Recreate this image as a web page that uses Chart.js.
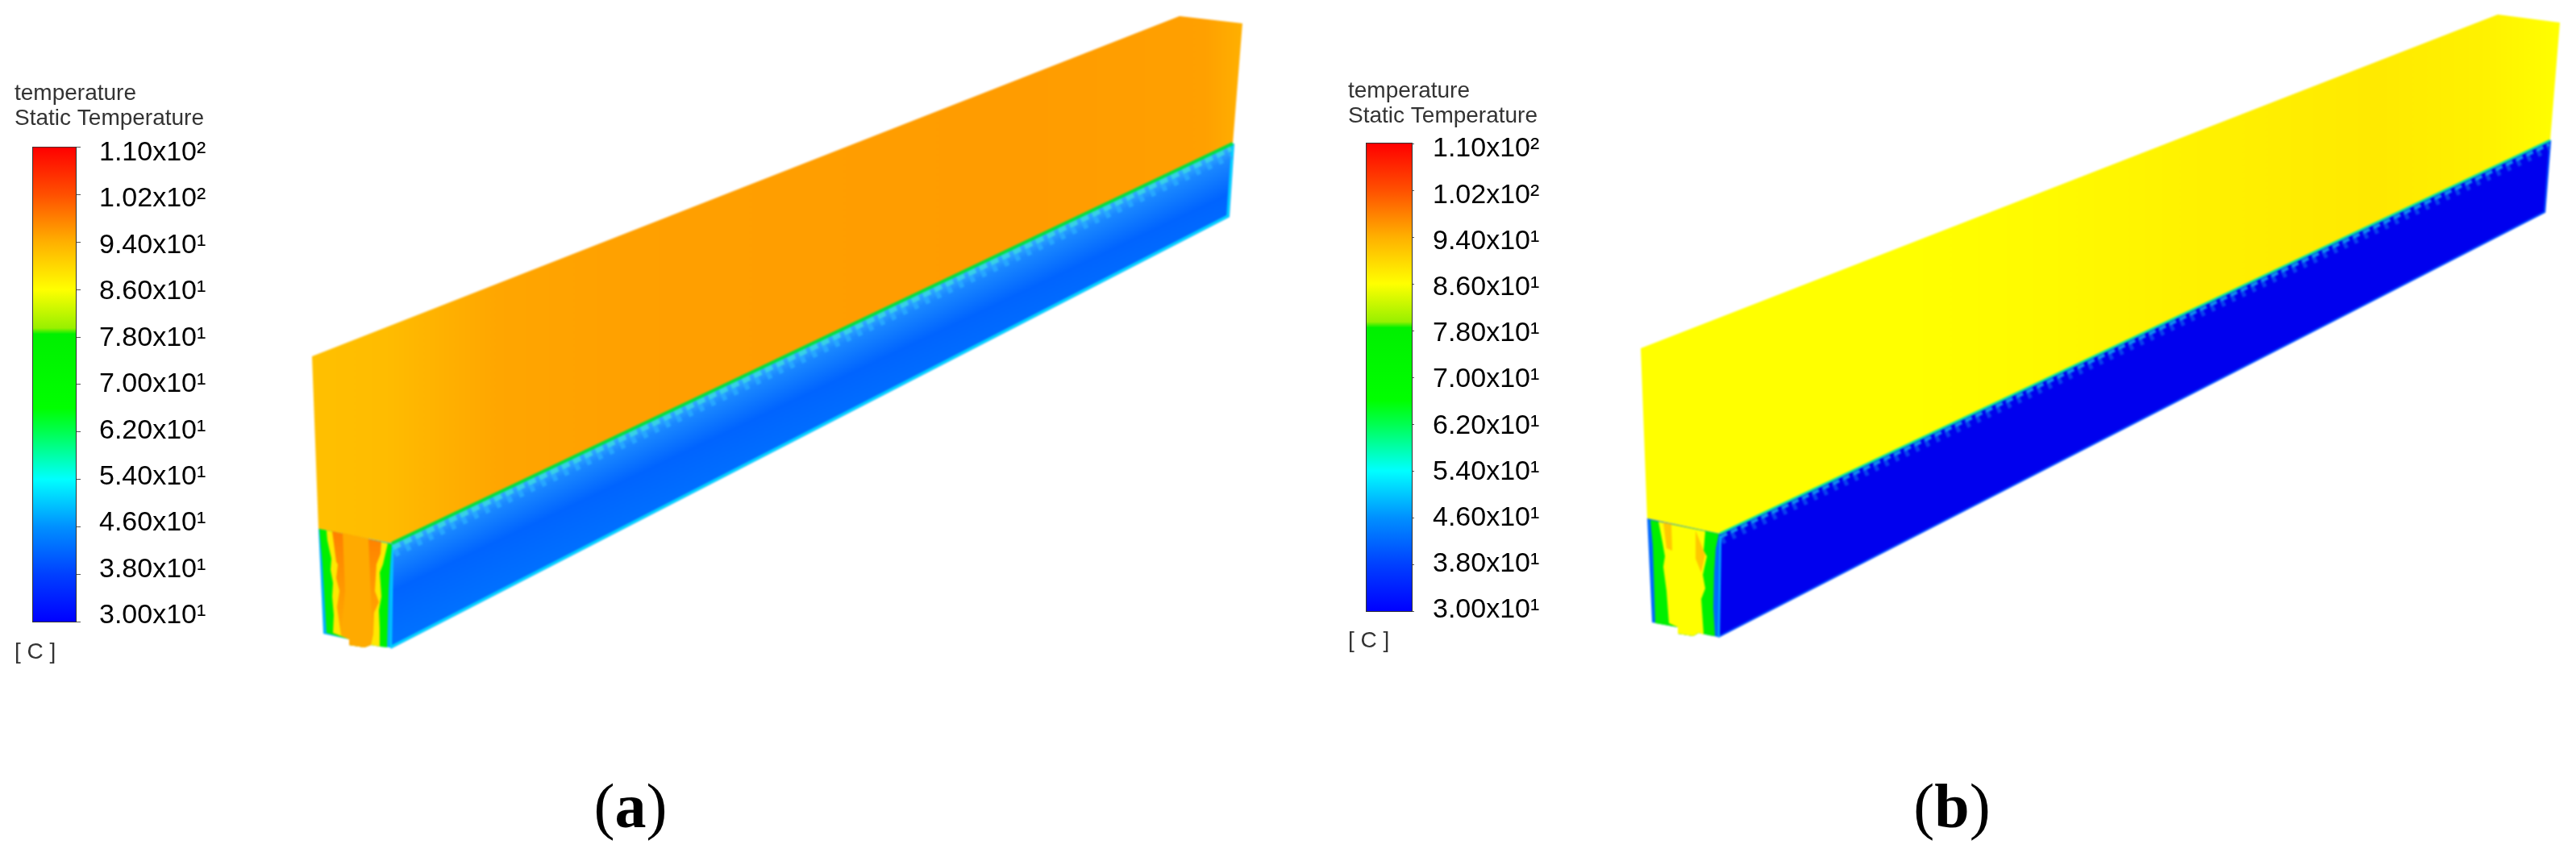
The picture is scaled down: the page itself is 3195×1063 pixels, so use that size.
<!DOCTYPE html>
<html>
<head>
<meta charset="utf-8">
<title>Static temperature</title>
<script src="https://cdn.jsdelivr.net/npm/chart.js@4"></script>
<style>
    html, body { margin: 0; padding: 0; background: #fff; }
    body { position: relative; width: 3195px; height: 1063px; overflow: hidden; }
    canvas { position: absolute; }
    #geometry { left: 0; top: 0; filter: blur(1.2px); }
    #legendA { left: 0; top: 0; filter: blur(0.3px); }
    #legendB { left: 1654px; top: 0; filter: blur(0.3px); }
    .caption { position: absolute; top: 955px; font: 78px "Liberation Serif", serif; color: #000; transform: translateX(-50%); }
</style>
</head>
<body>
<canvas id="geometry" width="3195" height="1063"></canvas>
<canvas id="legendA" width="300" height="830"></canvas>
<canvas id="legendB" width="300" height="830"></canvas>
<div class="caption" style="left:782px">(<b>a</b>)</div>
<div class="caption" style="left:2421px">(<b>b</b>)</div>
<script>
// colour bar
const tempTicks = [110, 102, 94, 86, 78, 70, 62, 54, 46, 38, 30];
const tickLabels = ['1.10x10²', '1.02x10²', '9.40x10¹', '8.60x10¹', '7.80x10¹', '7.00x10¹', '6.20x10¹', '5.40x10¹', '4.60x10¹', '3.80x10¹', '3.00x10¹'];
const colorTemps = [110, 102, 94, 86, 79.5, 78.5, 66, 62, 54, 46, 38, 30];
const colorHexes = ['#ff0000', '#ff5000', '#ffb000', '#ffff00', '#98f000', '#00f000', '#00ff00', '#00ff50', '#00ffff', '#0090ff', '#0040ff', '#0000ff'];

// panel (a), outlines
const topFaceA = [[387, 442], [1463, 20], [1541, 29], [1529, 178], [486, 674], [395, 656]];
const sideFaceA = [[486, 674], [1529, 178], [1523, 268], [484, 803]];
const interfaceA = [[486, 674], [1529, 178]];
const teethNearA = [[487, 679], [1527, 184]];
const teethFarA = [[488, 684], [1526, 190]];
const sideEdgeA = [[486, 678], [484, 803]];
const endOutlineA = [[395, 656], [401, 786], [433, 793], [433, 800], [452, 803], [460, 800], [472, 802], [484, 803], [486, 674]];
const endGreenA = [[396, 656], [400, 700], [405, 785], [433, 793], [433, 800], [452, 803], [460, 800], [472, 802], [480, 803], [482, 733], [484, 700], [486, 675]];
const endYellowA = [[405, 658], [406, 670], [411, 693], [410, 707], [413, 723], [412, 740], [414, 763], [413, 785], [433, 793], [433, 800], [452, 803], [460, 800], [471, 802], [471, 780], [470, 757], [473, 740], [471, 710], [475, 700], [481, 674]];
const endHotA = [[412, 659], [417, 697], [419, 700], [417, 717], [421, 733], [418, 753], [423, 788], [433, 793], [433, 800], [452, 803], [460, 800], [463, 787], [464, 760], [470, 747], [465, 733], [467, 700], [472, 687], [473, 672]];
const endCoreA = [[425, 661], [428, 733], [423, 788], [433, 793], [433, 800], [452, 803], [460, 800], [462, 790], [457, 668]];

// panel (b)
const topFaceB = [[2035, 432], [3098, 18], [3175, 28], [3163, 174], [2133, 662], [2043, 643]];
const sideFaceB = [[2133, 662], [3163, 174], [3156, 263], [2131, 790]];
const interfaceB = [[2133, 662], [3163, 174]];
const teethNearB = [[2134, 666], [3162, 179]];
const teethFarB = [[2135, 671], [3161, 184]];
const sideEdgeB = [[2133, 665], [2131, 790]];
const endOutlineB = [[2043, 643], [2049, 772], [2081, 778], [2081, 786], [2100, 789], [2107, 785], [2120, 788], [2131, 790], [2133, 662]];
const endGreenB = [[2047, 645], [2050, 677], [2051, 707], [2053, 773], [2081, 778], [2081, 786], [2100, 789], [2107, 785], [2120, 788], [2127, 789], [2125, 753], [2126, 710], [2128, 680], [2132, 662]];
const endYellowB = [[2057, 647], [2062, 673], [2065, 690], [2063, 703], [2067, 733], [2070, 773], [2081, 778], [2081, 786], [2100, 789], [2107, 785], [2113, 787], [2110, 743], [2115, 730], [2112, 713], [2117, 690], [2113, 683], [2115, 659]];
const endHotLeftB = [[2063, 648], [2073, 650], [2074, 683], [2067, 680]];
const endHotRightB = [[2103, 658], [2115, 688], [2110, 710], [2103, 693]];

function gradient(chart, from, to, stops) {
    const sx = chart.scales.x, sy = chart.scales.y;
    const g = chart.ctx.createLinearGradient(sx.getPixelForValue(from[0]), sy.getPixelForValue(from[1]), sx.getPixelForValue(to[0]), sy.getPixelForValue(to[1]));
    stops.forEach(function (s) { g.addColorStop(s[0], s[1]); });
    return g;
}

function shape(label, data, fill) {
    return { label: label, data: data, showLine: true, fill: 'shape', backgroundColor: fill, borderWidth: 0, pointRadius: 0 };
}

function line(label, data, color, width, dash) {
    return { label: label, data: data, showLine: true, fill: false, borderColor: color, borderWidth: width, borderDash: dash || [], pointRadius: 0 };
}

// bottom layer first
const layers = [
    shape('face a', topFaceA, function (c) {
        if (!c.chart.chartArea) return '#ffa000';
        return gradient(c.chart, [387, 0], [1541, 0], [[0, '#ffc000'], [0.08, '#ffbc00'], [0.2, '#ffa600'], [0.35, '#ffa000'], [0.75, '#ff9c00'], [0.96, '#ffa000'], [1, '#ffb000']]);
    }),
    shape('side a', sideFaceA, function (c) {
        if (!c.chart.chartArea) return '#0068ff';
        return gradient(c.chart, [1000, 430], [1046, 527], [[0, '#35b0ff'], [0.14, '#1a88ff'], [0.5, '#0064ff'], [1, '#0070ff']]);
    }),
    line('side a glow', [sideFaceA[3], sideFaceA[2], sideFaceA[1]], '#00a8ff', 4),
    line('side a bottom', [sideFaceA[3], sideFaceA[2], sideFaceA[1]], '#00e0ff', 2),
    line('teeth a far', teethFarA, 'rgba(40,170,255,0.9)', 15, [6, 9.5]),
    line('teeth a near', teethNearA, '#38d0e8', 7, [10, 5.5]),
    line('interface a', interfaceA, '#00e040', 4),
    line('side edge a', sideEdgeA, '#00d0ff', 4),
    shape('end a', endOutlineA, '#00b0ff'),
    shape('end a green', endGreenA, '#00f000'),
    shape('end a yellow', endYellowA, '#ffe800'),
    shape('end a hot', endHotA, function (c) {
        if (!c.chart.chartArea) return '#ff9000';
        return gradient(c.chart, [0, 660], [0, 800], [[0, '#ff8000'], [0.5, '#ff9800'], [1, '#ffae00']]);
    }),
    shape('end a core', endCoreA, '#ffaa00'),

    shape('face b', topFaceB, function (c) {
        if (!c.chart.chartArea) return '#fff000';
        return gradient(c.chart, [2035, 0], [3175, 0], [[0, '#ffff00'], [0.3, '#ffff00'], [0.45, '#fffa00'], [0.6, '#fff200'], [0.8, '#ffea00'], [0.92, '#fff200'], [1, '#ffff00']]);
    }),
    shape('side b', sideFaceB, '#0000ee'),
    line('side b bottom', [sideFaceB[3], sideFaceB[2], sideFaceB[1]], '#0048ff', 2.5),
    line('teeth b far', teethFarB, 'rgba(10,80,240,0.8)', 9, [5, 9]),
    line('teeth b near', teethNearB, '#1090f0', 4, [9, 5]),
    line('interface b', interfaceB, '#00e8a0', 3),
    line('side edge b', sideEdgeB, '#00b8ff', 4),
    shape('end b', endOutlineB, '#0068ff'),
    shape('end b green', endGreenB, '#00f000'),
    shape('end b yellow', endYellowB, '#ffff00'),
    shape('end b hot left', endHotLeftB, '#ffc800'),
    shape('end b hot right', endHotRightB, '#ffc800')
];

new Chart(document.getElementById('geometry'), {
    type: 'scatter',
    data: { datasets: layers.reverse() },
    options: {
        responsive: false,
        animation: false,
        devicePixelRatio: 1,
        layout: { padding: 0 },
        plugins: { legend: { display: false }, tooltip: { enabled: false }, filler: { propagate: false } },
        scales: {
            x: { type: 'linear', min: 0, max: 3195, display: false },
            y: { type: 'linear', min: 0, max: 1063, reverse: true, display: false }
        }
    }
});

function legendChart(id, opts) {
    new Chart(document.getElementById(id), {
        type: 'bar',
        data: {
            labels: [''],
            datasets: [{
                data: [[30, 110]],
                xAxisID: 'x',
                yAxisID: 'temp',
                barPercentage: 1,
                categoryPercentage: 1,
                backgroundColor: function (c) {
                    if (!c.chart.chartArea) return '#00ff00';
                    const s = c.chart.scales.temp;
                    const g = c.chart.ctx.createLinearGradient(0, s.getPixelForValue(110), 0, s.getPixelForValue(30));
                    colorTemps.forEach(function (t, i) { g.addColorStop((110 - t) / 80, colorHexes[i]); });
                    return g;
                }
            }]
        },
        options: {
            responsive: false,
            animation: false,
            devicePixelRatio: 1,
            layout: { padding: { left: 18 } },
            plugins: {
                legend: { display: false },
                tooltip: { enabled: false },
                title: {
                    display: true,
                    text: ['temperature', 'Static Temperature'],
                    align: 'start',
                    color: '#333',
                    font: { family: 'Liberation Sans', size: 28, weight: 'normal', lineHeight: 1.1 },
                    padding: opts.titlePadding
                },
                subtitle: {
                    display: true,
                    position: 'bottom',
                    text: '[ C ]',
                    align: 'start',
                    color: '#333',
                    font: { family: 'Liberation Sans', size: 28, weight: 'normal', lineHeight: 1.1 },
                    padding: opts.unitPadding
                }
            },
            scales: {
                x: {
                    grid: { display: false, drawTicks: false },
                    ticks: { display: false },
                    border: { display: true, color: '#333', width: 2 }
                },
                top: {
                    axis: 'x',
                    type: 'linear',
                    position: 'top',
                    min: 0,
                    max: 1,
                    grid: { display: false, drawTicks: false },
                    ticks: { display: false },
                    border: { display: true, color: '#333', width: 2 }
                },
                gap: {
                    axis: 'y',
                    type: 'linear',
                    position: 'left',
                    min: 0,
                    max: 1,
                    grid: { display: false, drawTicks: false },
                    ticks: { display: false },
                    border: { display: true, color: '#333', width: 2 },
                    afterFit: function (s) { s.width = opts.barLeft - 18; }
                },
                temp: {
                    axis: 'y',
                    type: 'linear',
                    position: 'right',
                    weight: 0,
                    min: 30,
                    max: 110,
                    afterBuildTicks: function (s) { s.ticks = tempTicks.map(function (v) { return { value: v }; }); },
                    grid: { drawOnChartArea: false, tickLength: opts.tickLength, color: '#555' },
                    ticks: { display: false },
                    border: { display: true, color: '#333', width: 2 },
                    afterFit: function (s) { s.width = opts.tickLength; }
                },
                // labels sit a little inside the tick marks in the original
                labels: {
                    axis: 'y',
                    type: 'linear',
                    position: 'right',
                    weight: 1,
                    min: opts.labelMin,
                    max: opts.labelMax,
                    afterBuildTicks: function (s) { s.ticks = tempTicks.map(function (v) { return { value: v }; }); },
                    grid: { display: false, drawTicks: false },
                    border: { display: false },
                    ticks: {
                        autoSkip: false,
                        padding: 123 - opts.barRight - opts.tickLength,
                        color: '#000',
                        font: { family: 'Liberation Sans', size: 34 },
                        callback: function (v) { return tickLabels[tempTicks.indexOf(v)]; }
                    },
                    afterFit: function (s) {
                        s.width = 300 - opts.barRight - opts.tickLength;
                        s.paddingTop = 0;
                        s.paddingBottom = 0;
                    }
                }
            }
        }
    });
}

legendChart('legendA', {
    barLeft: 41, barRight: 94, tickLength: 6, labelMin: 29.02, labelMax: 110.97,
    titlePadding: { top: 100.6, bottom: 20.5 },
    unitPadding: { top: 22.6, bottom: 5.6 }
});
legendChart('legendB', {
    barLeft: 41, barRight: 97, tickLength: 3, labelMin: 29.86, labelMax: 110.98,
    titlePadding: { top: 97.6, bottom: 18.8 },
    unitPadding: { top: 21.6, bottom: 19.6 }
});
</script>
</body>
</html>
